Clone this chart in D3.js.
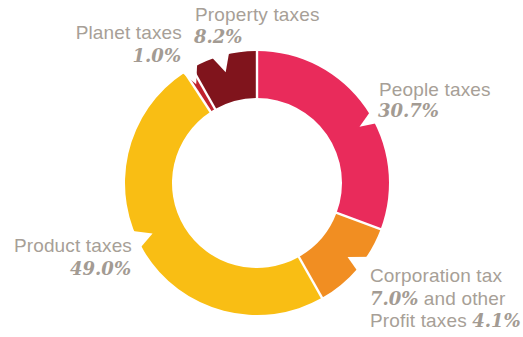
<!DOCTYPE html>
<html>
<head>
<meta charset="utf-8">
<script src="https://cdn.jsdelivr.net/npm/d3@7"></script>
<style>
  html, body { margin: 0; padding: 0; background: #fff; }
  svg { display: block; }
  .lbl { font-family: "Liberation Sans", Arial, sans-serif; font-size: 19px; fill: #a79f97; letter-spacing: 0.15px; }
  .pct { font-family: "DejaVu Serif", Georgia, serif; font-size: 18px; font-weight: bold; font-style: italic; fill: #a39b93; letter-spacing: 0; }
</style>
</head>
<body>
<svg id="chart" width="523" height="337"></svg>
<script>
// Tax revenue shares, clockwise from twelve o'clock
const categories = ["People taxes", "Corporation tax", "Other profit taxes", "Product taxes", "Planet taxes", "Property taxes"];
const shares = [30.7, 7.0, 4.1, 49.0, 1.0, 8.2];
const shareLabels = ["30.7%", "7.0%", "4.1%", "49.0%", "1.0%", "8.2%"];

// Fill per category (the two profit taxes share one colour)
const palette = ["#e92b5b", "#f18e22", "#f18e22", "#f9be14", "#c1232e", "#80141c"];

const svg = d3.select("#chart");
const cx = 257, cy = 183;
const outerR = 132, innerR = 85;

const g = svg.append("g").attr("transform", `translate(${cx},${cy})`);

const pie = d3.pie().sort(null).value(d => d);
const slices = pie(shares);
const arc = d3.arc().innerRadius(innerR).outerRadius(outerR);

// Consecutive slices of one colour are drawn as a single band
const bands = [];
slices.forEach((s, i) => {
  const last = bands[bands.length - 1];
  if (last && last.color === palette[i]) {
    last.endAngle = s.endAngle;
  } else {
    bands.push({ startAngle: s.startAngle, endAngle: s.endAngle, color: palette[i] });
  }
});

g.selectAll("path.band")
  .data(bands)
  .enter().append("path")
  .attr("class", "band")
  .attr("d", arc)
  .attr("fill", d => d.color);

// White separators between bands
const polar = (r, a) => [r * Math.sin(a), -r * Math.cos(a)];
g.selectAll("line.sep")
  .data(bands.map(b => b.endAngle))
  .enter().append("line")
  .attr("class", "sep")
  .attr("x1", a => polar(innerR - 2, a)[0])
  .attr("y1", a => polar(innerR - 2, a)[1])
  .attr("x2", a => polar(outerR + 2, a)[0])
  .attr("y2", a => polar(outerR + 2, a)[1])
  .attr("stroke", "#fff")
  .attr("stroke-width", 2.4);

// Pointer notches cut into the rim toward each label:
// [edge angle 1, edge angle 2, tip angle] in degrees, tip depth in px
const notches = [
  [58.1, 63.2, 61.2, 15],
  [124.0, 131.1, 129.3, 15],
  [241.2, 248.6, 244.2, 16],
  [326.0, 333.0, 328.4, 16],
  [340.5, 347.7, 344.2, 17]
];
const rad = d3.scaleLinear().domain([0, 360]).range([0, 2 * Math.PI]);
g.selectAll("path.notch")
  .data(notches)
  .enter().append("path")
  .attr("class", "notch")
  .attr("fill", "#fff")
  .attr("d", n => {
    const tip = polar(outerR - n[3], rad(n[2]));
    const p1 = polar(outerR, rad(n[0]));
    const p2 = polar(outerR, rad(n[1]));
    const ext = p => [tip[0] + (p[0] - tip[0]) * 1.5, tip[1] + (p[1] - tip[1]) * 1.5];
    const e1 = ext(p1), e2 = ext(p2);
    return `M${tip[0]},${tip[1]}L${e1[0]},${e1[1]}L${e2[0]},${e2[1]}Z`;
  });

// Labels
function addLabel(x, y, anchor, parts) {
  const t = svg.append("text").attr("x", x).attr("y", y).attr("text-anchor", anchor);
  parts.forEach(p => t.append("tspan").attr("class", p[1]).text(p[0]));
  return t;
}

addLabel(195, 21, "start", [[categories[5], "lbl"]]);
addLabel(194, 43, "start", [[shareLabels[5], "pct"]]);

addLabel(182, 38.5, "end", [[categories[4], "lbl"]]);
addLabel(181, 61.5, "end", [[shareLabels[4], "pct"]]);

addLabel(379, 95.5, "start", [[categories[0], "lbl"]]);
addLabel(378, 117, "start", [[shareLabels[0], "pct"]]);

addLabel(370, 282, "start", [[categories[1], "lbl"]]);
addLabel(370, 304.5, "start", [[shareLabels[1], "pct"], [" and other", "lbl"]]);
addLabel(370, 327, "start", [["Profit taxes ", "lbl"], [shareLabels[2], "pct"]]);

addLabel(132, 251.5, "end", [[categories[3], "lbl"]]);
addLabel(131, 275, "end", [[shareLabels[3], "pct"]]);
</script>
</body>
</html>
